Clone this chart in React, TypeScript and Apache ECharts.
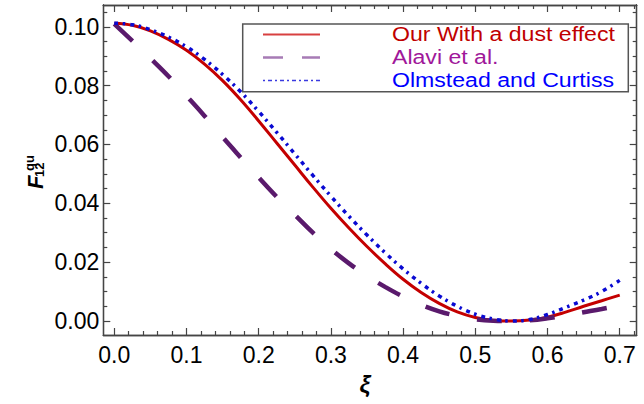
import React, { useEffect, useRef } from "react";
import * as echarts from "echarts";

// ---- data ----
const xi = [
  0, 0.025, 0.05, 0.075, 0.1, 0.125, 0.15, 0.175, 0.2, 0.225, 0.25, 0.275, 0.3, 0.325, 0.35,
  0.375, 0.4, 0.425, 0.45, 0.475, 0.5, 0.525, 0.55, 0.575, 0.6, 0.625, 0.65, 0.675, 0.7,
];
const ourDust = [
  0.1012, 0.1005, 0.0986, 0.0957, 0.092, 0.0873, 0.0817, 0.0752, 0.068, 0.0605, 0.053, 0.0455,
  0.0383, 0.0316, 0.0253, 0.0195, 0.0142, 0.0097, 0.006, 0.0031, 0.0012, 0.0002, 0.0, 0.0003,
  0.0013, 0.003, 0.005, 0.0069, 0.0088,
];
const alavi = [
  0.101, 0.0952, 0.0893, 0.0832, 0.0765, 0.0697, 0.0625, 0.0556, 0.0488, 0.0422, 0.0361, 0.03,
  0.0245, 0.0196, 0.0153, 0.0116, 0.0083, 0.0055, 0.0033, 0.0017, 0.0006, 0.0001, 0.0, 0.0002,
  0.0009, 0.0019, 0.003, 0.0041, 0.0053,
];
const olmstead = [
  0.1012, 0.1007, 0.099, 0.0965, 0.0932, 0.0889, 0.0838, 0.0779, 0.0712, 0.0641, 0.0568, 0.0495,
  0.0424, 0.0356, 0.0292, 0.0232, 0.0177, 0.0128, 0.0085, 0.005, 0.0023, 0.0007, 0.0, 0.0005,
  0.0022, 0.0046, 0.0071, 0.01, 0.0138,
];
const seriesNames = ["Our With a dust effect", "Alavi et al.", "Olmstead and Curtiss"];
const xMajor = [0, 0.1, 0.2, 0.3, 0.4, 0.5, 0.6, 0.7];
const xMinor = [
  0.02, 0.04, 0.06, 0.08, 0.12, 0.14, 0.16, 0.18, 0.22, 0.24, 0.26, 0.28, 0.32, 0.34, 0.36, 0.38,
  0.42, 0.44, 0.46, 0.48, 0.52, 0.54, 0.56, 0.58, 0.62, 0.64, 0.66, 0.68, 0.72,
];
const yMajor = [0, 0.02, 0.04, 0.06, 0.08, 0.1];
const yMinor = [
  0.005, 0.01, 0.015, 0.025, 0.03, 0.035, 0.045, 0.05, 0.055, 0.065, 0.07, 0.075, 0.085, 0.09,
  0.095, 0.105,
];

const X_MIN = -0.0152;
const X_MAX = 0.7235;
const Y_MIN = -0.00476;
const Y_MAX = 0.1074;

const FRAME = "#454545";
const FONT = "'Liberation Sans', Arial, sans-serif";

function pairs(ys: number[]) {
  return xi.map((x, i) => [x, ys[i]]);
}

function xAxisDef(position: "bottom" | "top", major: boolean, labels: boolean) {
  return {
    type: "value",
    min: X_MIN,
    max: X_MAX,
    position,
    axisLine: { show: true, onZero: false, lineStyle: { color: FRAME, width: 1.3 } },
    axisTick: {
      show: true,
      inside: true,
      length: major ? 7 : 4,
      customValues: major ? xMajor : xMinor,
      lineStyle: { color: FRAME, width: 1.2 },
    },
    axisLabel: labels
      ? {
          show: true,
          customValues: xMajor,
          formatter: (v: number) => v.toFixed(1),
          fontSize: 23,
          fontFamily: FONT,
          color: "#000",
          margin: 8,
        }
      : { show: false },
    splitLine: { show: false },
  };
}

function yAxisDef(position: "left" | "right", major: boolean, labels: boolean) {
  return {
    type: "value",
    min: Y_MIN,
    max: Y_MAX,
    position,
    axisLine: { show: true, onZero: false, lineStyle: { color: FRAME, width: 1.3 } },
    axisTick: {
      show: true,
      inside: true,
      length: major ? 7 : 4,
      customValues: major ? yMajor : yMinor,
      lineStyle: { color: FRAME, width: 1.2 },
    },
    axisLabel: labels
      ? {
          show: true,
          customValues: yMajor,
          formatter: (v: number) => v.toFixed(2),
          fontSize: 23,
          fontFamily: FONT,
          color: "#000",
          margin: 4,
        }
      : { show: false },
    splitLine: { show: false },
  };
}

export default function App() {
  const ref = useRef<HTMLDivElement>(null);
  useEffect(() => {
    if (!ref.current) return;
    const chart = echarts.init(ref.current, undefined, { renderer: "svg" });
    const legendRows = [34.5, 57.5, 80.5];
    const option: any = {
      animation: false,
      backgroundColor: "#fff",
      grid: {
        left: 103.3,
        right: 7.3,
        top: 5,
        bottom: 69,
        containLabel: false,
        outerBoundsMode: "none",
      },
      xAxis: [
        xAxisDef("bottom", true, true),
        xAxisDef("bottom", false, false),
        xAxisDef("top", true, false),
        xAxisDef("top", false, false),
      ],
      yAxis: [
        yAxisDef("left", true, true),
        yAxisDef("left", false, false),
        yAxisDef("right", true, false),
        yAxisDef("right", false, false),
      ],
      series: [
        {
          name: seriesNames[0],
          type: "line",
          xAxisIndex: 0,
          yAxisIndex: 0,
          data: pairs(ourDust),
          smooth: 0.4,
          showSymbol: false,
          lineStyle: { color: "#c40000", width: 3 },
          z: 2,
        },
        {
          name: seriesNames[1],
          type: "line",
          xAxisIndex: 0,
          yAxisIndex: 0,
          data: pairs(alavi),
          smooth: 0.4,
          showSymbol: false,
          lineStyle: { color: "#5a1a6c", width: 4.5, type: [25, 28], cap: "butt" },
          z: 3,
        },
        {
          name: seriesNames[2],
          type: "line",
          xAxisIndex: 0,
          yAxisIndex: 0,
          data: pairs(olmstead),
          smooth: 0.4,
          showSymbol: false,
          lineStyle: { color: "#0a0ad2", width: 3.5, type: [4, 4.5, 2.5, 5], cap: "butt" },
          z: 4,
        },
      ],
      graphic: [
        // legend box
        {
          type: "rect",
          shape: { x: 242.7, y: 24, width: 385.6, height: 67.7 },
          style: { fill: "#fff", stroke: "#555", lineWidth: 1.5 },
          z: 10,
        },
        {
          type: "line",
          shape: { x1: 263, y1: legendRows[0], x2: 320, y2: legendRows[0] },
          style: { stroke: "#d84040", lineWidth: 2 },
          z: 11,
        },
        {
          type: "line",
          shape: { x1: 263, y1: legendRows[1], x2: 320, y2: legendRows[1] },
          style: { stroke: "#a77bb5", lineWidth: 2.5, lineDash: [20, 19] },
          z: 11,
        },
        {
          type: "line",
          shape: { x1: 263, y1: legendRows[2], x2: 320, y2: legendRows[2] },
          style: { stroke: "#3a3ae0", lineWidth: 1.6, lineDash: [2, 3, 4, 3] },
          z: 11,
        },
        ...seriesNames.map((n, i) => ({
          type: "text",
          x: 392,
          y: legendRows[i] - 0.5,
          scaleX: 1.1,
          style: {
            text: n,
            fill: ["#c00000", "#a0189a", "#0000ff"][i],
            font: `21px ${FONT}`,
            textAlign: "left",
            textVerticalAlign: "middle",
          },
          z: 11,
        })),
        // x axis title
        {
          type: "text",
          x: 365,
          y: 384,
          style: {
            text: "ξ",
            fill: "#000",
            font: `italic bold 24px ${FONT}`,
            textAlign: "center",
            textVerticalAlign: "middle",
          },
        },
        // y axis title  F_12^qu  (rotated)
        {
          type: "group",
          x: 35,
          y: 189,
          rotation: Math.PI / 2,
          children: [
            {
              type: "text",
              x: 0,
              y: 0,
              style: {
                text: "F",
                fill: "#000",
                font: `italic bold 22px ${FONT}`,
                textAlign: "left",
                textVerticalAlign: "middle",
              },
            },
            {
              type: "text",
              x: 12,
              y: 4,
              style: {
                text: "12",
                fill: "#000",
                font: `bold 13px ${FONT}`,
                textAlign: "left",
                textVerticalAlign: "middle",
              },
            },
            {
              type: "text",
              x: 18,
              y: -6,
              style: {
                text: "qu",
                fill: "#000",
                font: `bold 13px ${FONT}`,
                textAlign: "left",
                textVerticalAlign: "middle",
              },
            },
          ],
        },
      ],
    };
    chart.setOption(option);
    return () => chart.dispose();
  }, []);
  return (
    <div
      ref={ref}
      style={{ position: "fixed", left: 0, top: 0, width: 644, height: 404, background: "#fff" }}
    />
  );
}
